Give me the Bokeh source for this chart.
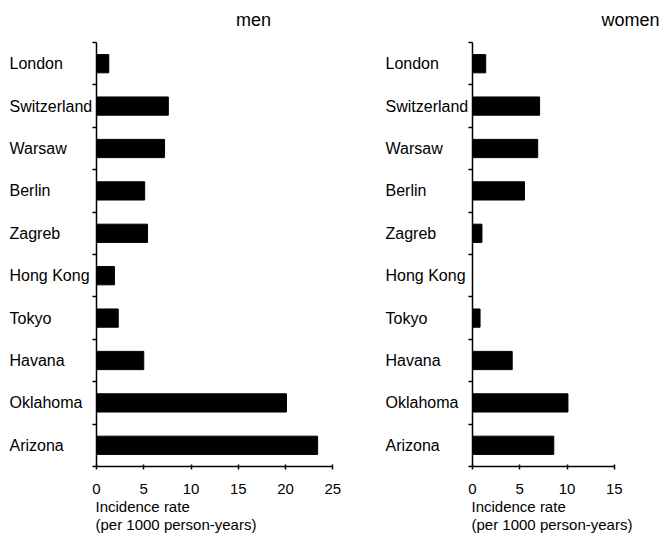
from bokeh.plotting import figure
from bokeh.models import Range1d, FixedTicker, Label, ColumnDataSource, LinearAxis
from bokeh.layouts import row
from bokeh.core.properties import value
from bokeh.embed import file_html
from bokeh.resources import INLINE

cities = ["London", "Switzerland", "Warsaw", "Berlin", "Zagreb",
          "Hong Kong", "Tokyo", "Havana", "Oklahoma", "Arizona"]
men = [1.3, 7.6, 7.2, 5.1, 5.4, 1.9, 2.3, 5.0, 20.1, 23.4]
women = [1.4, 7.1, 6.9, 5.5, 1.0, 0.0, 0.8, 4.2, 10.1, 8.6]
men_ticks = [0, 5, 10, 15, 20, 25]
women_ticks = [0, 5, 10, 15]
axis_label_1 = "Incidence rate"
axis_label_2 = "(per 1000 person-years)"

FONT = "Liberation Sans"
H = 535            # canvas height
TOP, BOTTOM = 42, 466   # pixel rows of the plot area
PX = 9.45          # pixels per x unit
n = len(cities)
pos = [i + 0.5 for i in range(n)]
row_px = (BOTTOM - TOP) / n


def panel(values, ticks, title, width, zero_px, title_dx):
    src = ColumnDataSource(dict(city=cities, pos=pos, val=values))
    p = figure(width=width, height=H,
               x_range=Range1d(-zero_px / PX, (width - zero_px) / PX),
               y_range=Range1d(n + (H - BOTTOM) / row_px, -TOP / row_px),
               output_backend="svg", toolbar_location=None,
               x_axis_location=None, y_axis_location=None,
               min_border=0)
    p.title.visible = False
    p.outline_line_color = None
    p.grid.visible = False
    p.background_fill_color = "white"
    p.border_fill_color = "white"

    p.hbar(y="pos", left=0, right="val", height=0.43, source=src,
           fill_color="black", line_color="black")

    # x axis
    xa = LinearAxis(fixed_location=n, bounds=(ticks[0], ticks[-1]),
                    ticker=FixedTicker(ticks=ticks))
    xa.axis_line_width = 1.5
    xa.axis_line_color = "black"
    xa.major_tick_line_width = 1.5
    xa.major_tick_line_color = "black"
    xa.major_tick_in = 2
    xa.major_tick_out = 3
    xa.minor_tick_line_color = None
    xa.major_label_text_font = FONT
    xa.major_label_text_font_size = "15px"
    xa.major_label_text_color = "black"
    xa.major_label_standoff = 14
    p.add_layout(xa, "below")

    # y axis: ticks at category boundaries only
    ya = LinearAxis(fixed_location=0, bounds=(0, n),
                    ticker=FixedTicker(ticks=[], minor_ticks=list(range(n + 1))))
    ya.axis_line_width = 1.5
    ya.axis_line_color = "black"
    ya.minor_tick_line_width = 1.5
    ya.minor_tick_line_color = "black"
    ya.minor_tick_in = 0
    ya.minor_tick_out = 4
    ya.major_tick_line_color = None
    p.add_layout(ya, "left")

    p.text(x=0, y="pos", text="city", source=src,
           x_offset=-87, text_align="left", text_baseline="middle",
           text_font=value(FONT), text_font_size=value("16px"),
           text_color="black")

    p.add_layout(Label(x=0, y=0, text=title, x_offset=title_dx, y_offset=23,
                       text_align="center", text_baseline="alphabetic",
                       text_font=FONT, text_font_size="18px", text_color="black"))
    p.add_layout(Label(x=0, y=n, text=axis_label_1, x_offset=-1, y_offset=-40,
                       text_align="left", text_baseline="alphabetic",
                       text_font=FONT, text_font_size="15px", text_color="black"))
    p.add_layout(Label(x=0, y=n, text=axis_label_2, x_offset=-1, y_offset=-58,
                       text_align="left", text_baseline="alphabetic",
                       text_font=FONT, text_font_size="15px", text_color="black"))
    return p


p1 = panel(men, men_ticks, "men", 384, 96, 157)
p2 = panel(women, women_ticks, "women", 278, 88, 158)

layout = row(p1, p2)
open("out.html", "w").write(file_html(layout, INLINE))
